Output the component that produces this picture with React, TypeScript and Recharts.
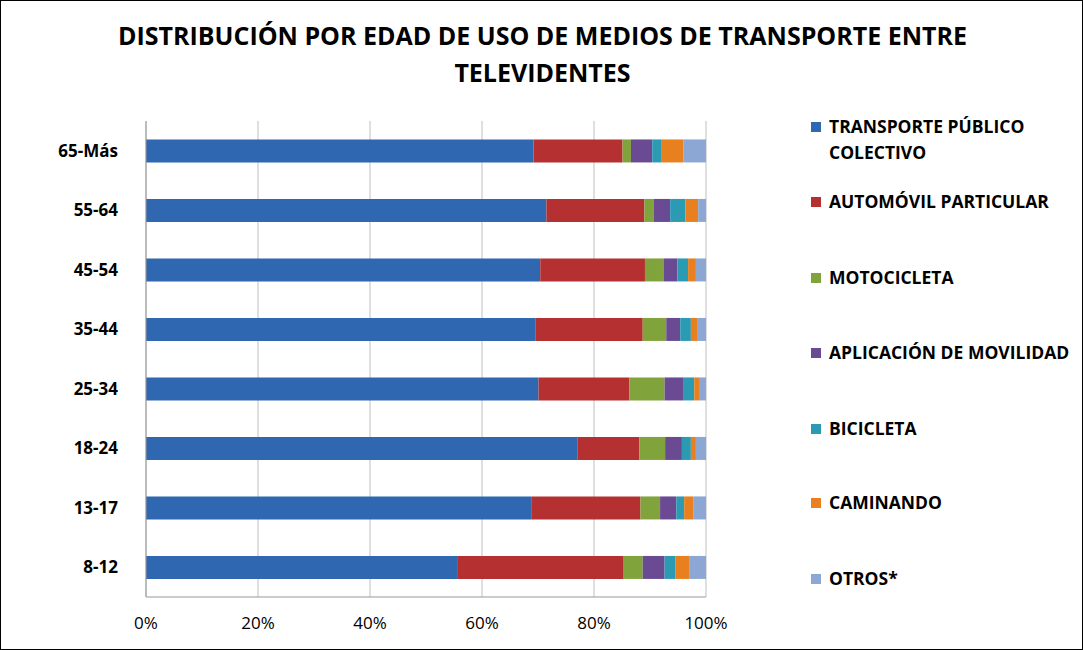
import { Bar, BarChart, CartesianGrid, XAxis, YAxis } from "recharts"

const ages = ["8-12", "13-17", "18-24", "25-34", "35-44", "45-54", "55-64", "65-Más"]
const publico = [55.7, 68.9, 77.1, 70.1, 69.6, 70.4, 71.5, 69.2]
const automovil = [29.6, 19.4, 11.0, 16.2, 19.1, 18.7, 17.5, 15.9]
const moto = [3.4, 3.5, 4.6, 6.3, 4.2, 3.3, 1.7, 1.5]
const app = [3.9, 2.9, 3.0, 3.3, 2.5, 2.5, 2.9, 3.8]
const bici = [1.9, 1.4, 1.6, 2.0, 1.9, 1.9, 2.7, 1.7]
const caminando = [2.6, 1.7, 0.9, 1.0, 1.1, 1.4, 2.3, 3.9]
const otros = [2.9, 2.2, 1.8, 1.1, 1.6, 1.8, 1.4, 4.0]

const series = [
  { key: "publico", name: "TRANSPORTE PÚBLICO COLECTIVO", color: "#2F67B0", values: publico },
  { key: "automovil", name: "AUTOMÓVIL PARTICULAR", color: "#B53131", values: automovil },
  { key: "moto", name: "MOTOCICLETA", color: "#80A33B", values: moto },
  { key: "app", name: "APLICACIÓN DE MOVILIDAD", color: "#6A4A92", values: app },
  { key: "bici", name: "BICICLETA", color: "#2B9AB3", values: bici },
  { key: "caminando", name: "CAMINANDO", color: "#E8801F", values: caminando },
  { key: "otros", name: "OTROS*", color: "#8CA7D3", values: otros },
]

const data = ages.map((age, i) => {
  const row: Record<string, string | number> = { age }
  series.forEach((s) => (row[s.key] = s.values[i]))
  return row
}).reverse()

const legendY = [124, 199, 275, 350, 426, 500, 576]

export default function App() {
  return (
    <div
      style={{
        position: "absolute",
        left: 0,
        top: 0,
        width: 1081,
        height: 648,
        border: "1px solid #000",
        background: "#fff",
        fontFamily: "'Open Sans', sans-serif",
      }}
    >
      <div
        style={{
          position: "absolute",
          top: 16,
          left: 0,
          width: 1083,
          textAlign: "center",
          fontWeight: 700,
          fontSize: 25,
          lineHeight: "37px",
        }}
      >
        DISTRIBUCIÓN POR EDAD DE USO DE MEDIOS DE TRANSPORTE ENTRE
        <br />
        TELEVIDENTES
      </div>
      <BarChart
        width={1083}
        height={650}
        data={data}
        layout="vertical"
        stackOffset="expand"
        barCategoryGap="31%"
        margin={{ top: 120, right: 378, bottom: 14, left: 0 }}
        style={{ position: "absolute", left: 0, top: 0 }}
      >
        <CartesianGrid horizontal={false} stroke="#bfbfbf" />
        <XAxis
          type="number"
          domain={[0, 1]}
          ticks={[0, 0.2, 0.4, 0.6, 0.8, 1]}
          tickFormatter={(v) => `${Math.round(v * 100)}%`}
          tick={{ fill: "#000", fontSize: 17 }}
          axisLine={{ stroke: "#999" }}
          tickLine={false}
          tickMargin={14}
          height={40}
        />
        <YAxis
          type="category"
          dataKey="age"
          width={145}
          tick={{ fill: "#000", fontSize: 17, fontWeight: 700 }}
          axisLine={{ stroke: "#999" }}
          tickLine={false}
          tickMargin={22}
        />
        {series.map((s) => (
          <Bar
            key={s.key}
            dataKey={s.key}
            name={s.name}
            stackId="a"
            fill={s.color}
            isAnimationActive={false}
          />
        ))}
      </BarChart>
      {series.map((s, i) => (
        <div
          key={s.key}
          style={{
            position: "absolute",
            left: 810,
            top: legendY[i] - 12,
            width: 270,
            display: "flex",
            alignItems: "flex-start",
            fontSize: 17.5,
            fontWeight: 700,
            lineHeight: "26px",
          }}
        >
          <span
            style={{
              display: "inline-block",
              width: 10,
              height: 10,
              background: s.color,
              marginTop: 9,
              marginRight: 8,
              flexShrink: 0,
            }}
          />
          <span style={{ width: s.key === "publico" ? 200 : 270 }}>{s.name}</span>
        </div>
      ))}
    </div>
  )
}
